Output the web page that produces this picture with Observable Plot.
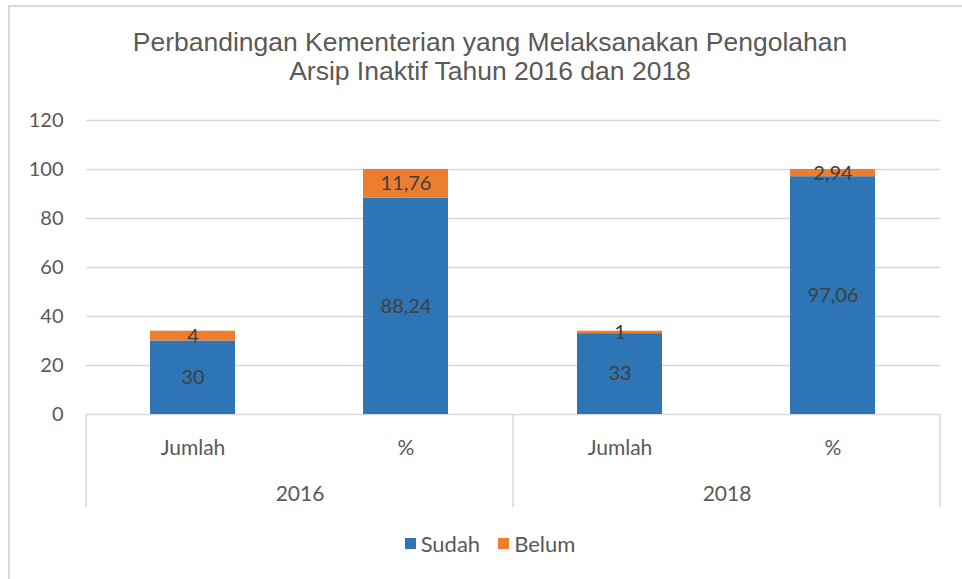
<!DOCTYPE html>
<html>
<head>
<meta charset="utf-8">
<script src="https://cdn.jsdelivr.net/npm/d3@7"></script>
<script src="https://cdn.jsdelivr.net/npm/@observablehq/plot@0.6"></script>
<style>
  html, body { margin: 0; padding: 0; background: #fff; overflow: hidden; }
  #wrap { position: relative; width: 962px; height: 579px; overflow: hidden; }
  #frame { position: absolute; left: 8px; top: 5px; width: 1000px; height: 700px;
           border-left: 2px solid #d9d9d9; border-top: 2px solid #d9d9d9; }
  #title { position: absolute; left: 0; width: 980px; top: 28px; text-align: center;
           font-family: "Liberation Sans", Arial, sans-serif; font-size: 26.5px; line-height: 29px; color: #595959; }
  #chart { position: absolute; left: 0; top: 0; }
  #legend { position: absolute; left: 0; width: 980px; top: 527px; text-align: center;
            font-family: Lato, "Open Sans", sans-serif; font-size: 22px; color: #595959; }
  #legend span.item { display: inline-flex; align-items: center; margin: 0 9px; }
  #legend span.sw { display: inline-block; width: 11px; height: 11px; margin-right: 5px; }
</style>
</head>
<body>
<div id="wrap">
  <div id="frame"></div>
  <div id="chart"></div>
  <div id="title">Perbandingan Kementerian yang Melaksanakan Pengolahan<br>Arsip Inaktif Tahun 2016 dan 2018</div>
  <div id="legend"></div>
</div>
<script>
const years = ["2016", "2018"];
const categories = ["Jumlah", "%"];
const series = ["Sudah", "Belum"];
const sudah = [30, 88.24, 33, 97.06];
const belum = [4, 11.76, 1, 2.94];
const colors = ["#2E75B6", "#ED7D31"];
const yTicks = [0, 20, 40, 60, 80, 100, 120];

const fmt = v => String(v).replace(".", ",");
const table = [];
[sudah, belum].forEach((vals, s) => {
  vals.forEach((v, i) => {
    table.push({year: years[Math.floor(i / 2)], cat: categories[i % 2], series: series[s], value: v});
  });
});

const font = "Lato, 'Open Sans', sans-serif";
const plot = Plot.plot({
  width: 962,
  height: 579,
  marginLeft: 86,
  marginRight: 22,
  marginTop: 120,
  marginBottom: 165,
  style: {fontFamily: font, color: "#595959", background: "transparent", overflow: "visible"},
  fx: {domain: years, padding: 0, axis: null, label: null},
  x: {domain: categories, paddingInner: 0.6, paddingOuter: 0.3, axis: null, label: null},
  y: {domain: [0, 120], axis: null, label: null},
  color: {domain: series, range: colors},
  marks: [
    Plot.ruleY(yTicks, {stroke: "#d9d9d9", strokeWidth: 1.5}),
    Plot.barY(table, {fx: "year", x: "cat", y: "value", fill: "series"}),
    Plot.text(table, Plot.stackY({fx: "year", x: "cat", y: "value", z: "series",
      text: d => fmt(d.value), fill: "#404040", fontSize: 20})),
    Plot.axisY({ticks: yTicks, tickSize: 0, tickPadding: 23, fontSize: 20, label: null}),
    Plot.axisX({tickSize: 0, tickPadding: 26, fontSize: 21, label: null}),
    Plot.axisFx({anchor: "bottom", tickSize: 0, tickPadding: 72, fontSize: 21, label: null})
  ]
});
document.getElementById("chart").appendChild(plot);

// separators between year groups, placed with the fx / y scales
const fx = plot.scale("fx");
const y = plot.scale("y");
const y0 = y.apply(0);
const edges = years.map(v => fx.apply(v)).concat([fx.apply(years[years.length - 1]) + fx.bandwidth]);
d3.select(plot).append("g")
  .selectAll("line").data(edges).join("line")
  .attr("x1", d => d).attr("x2", d => d)
  .attr("y1", y0).attr("y2", y0 + 93)
  .attr("stroke", "#d9d9d9").attr("stroke-width", 1.5);

// legend
const lg = d3.select("#legend");
series.forEach((s, i) => {
  const it = lg.append("span").attr("class", "item");
  it.append("span").attr("class", "sw").style("background", colors[i]);
  it.append("span").text(s);
});
</script>
</body>
</html>
